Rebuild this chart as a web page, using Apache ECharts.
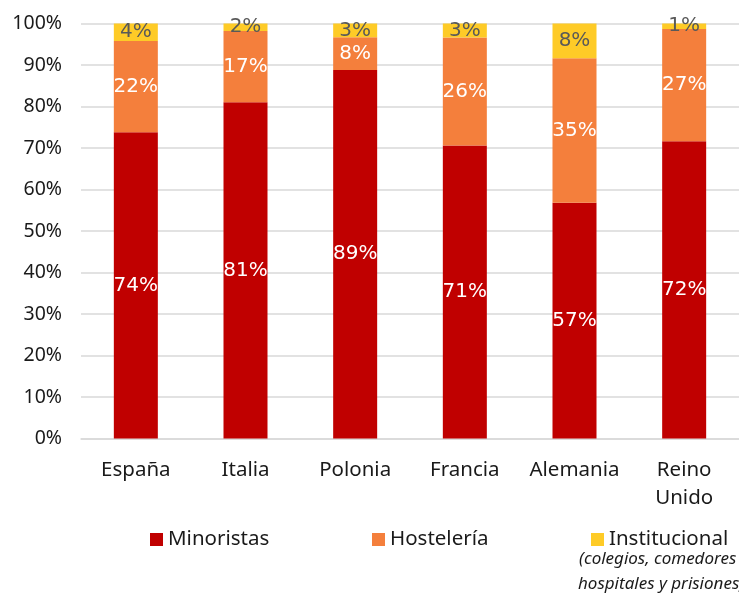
<!DOCTYPE html>
<html><head><meta charset="utf-8">
<script src="https://cdn.jsdelivr.net/npm/echarts@6/dist/echarts.min.js"></script>
<style>html,body{margin:0;padding:0;background:#fff}#c{width:739px;height:594px}</style>
</head><body><div id="c"></div>
<script>
const categories = ['España', 'Italia', 'Polonia', 'Francia', 'Alemania', 'Reino\nUnido'];
const minoristas = [73.8, 81.0, 88.8, 70.6, 56.8, 71.6];
const hosteleria = [22.0, 17.2, 7.9, 26.0, 34.8, 27.1];
const institucional = [4.2, 1.8, 3.3, 3.4, 8.4, 1.3];
const yTicks = [0, 10, 20, 30, 40, 50, 60, 70, 80, 90, 100];

const labelFont = 'DejaVu Sans';
const axisFont = 'Noto Sans';
function lab(color) {
  return { show: true, position: 'inside', color: color, fontFamily: labelFont, fontSize: 20,
    formatter: p => Math.round(p.value) + '%' };
}
const chart = echarts.init(document.getElementById('c'), null, { renderer: 'canvas' });
const legendBase = { orient: 'horizontal', top: 524, itemWidth: 13, itemHeight: 13, icon: 'rect', itemGap: 6,
  textStyle: { fontFamily: axisFont, fontSize: 20.5, color: '#1a1a1a', padding: [0, 0, 0, 0] } };
chart.setOption({
  animation: false,
  grid: { left: 81, top: 23.5, width: 664, height: 415, containLabel: false },
  legend: [
    Object.assign({}, legendBase, { left: 145, data: ['Minoristas'] }),
    Object.assign({}, legendBase, { left: 367, data: ['Hostelería'] }),
    Object.assign({}, legendBase, { left: 586, data: ['Institucional'] })
  ],
  xAxis: { type: 'category', data: categories,
    axisLine: { show: true, lineStyle: { color: '#d9d9d9', width: 1.5 } }, axisTick: { show: false },
    axisLabel: { interval: 0, hideOverlap: false, fontFamily: axisFont, fontSize: 20.5, color: '#1a1a1a', margin: 18, lineHeight: 28, verticalAlign: 'top' } },
  yAxis: { type: 'value', min: 0, max: 100, interval: 10,
    axisLine: { show: false }, axisTick: { show: false },
    splitLine: { lineStyle: { color: '#d9d9d9', width: 1.5 } },
    axisLabel: { fontFamily: axisFont, fontSize: 19.5, color: '#1a1a1a', margin: 19,
      formatter: v => yTicks.includes(v) ? v + '%' : '' } },
  series: [
    { name: 'Minoristas', type: 'bar', stack: 's', barWidth: 44, data: minoristas,
      itemStyle: { color: '#C00000' }, label: lab('#ffffff') },
    { name: 'Hostelería', type: 'bar', stack: 's', barWidth: 44, data: hosteleria,
      itemStyle: { color: '#F47F3C' }, label: lab('#ffffff') },
    { name: 'Institucional', type: 'bar', stack: 's', barWidth: 44, data: institucional,
      itemStyle: { color: '#FECB27' }, label: lab('#595959') }
  ],
  graphic: [
    { type: 'text', left: 579, top: 551, style: { text: '(colegios, comedores escolares,', fontFamily: axisFont, fontStyle: 'italic', fontSize: 17, fill: '#1a1a1a' } },
    { type: 'text', left: 578, top: 576, style: { text: 'hospitales y prisiones)', fontFamily: axisFont, fontStyle: 'italic', fontSize: 17, fill: '#1a1a1a' } }
  ]
});
</script></body></html>
